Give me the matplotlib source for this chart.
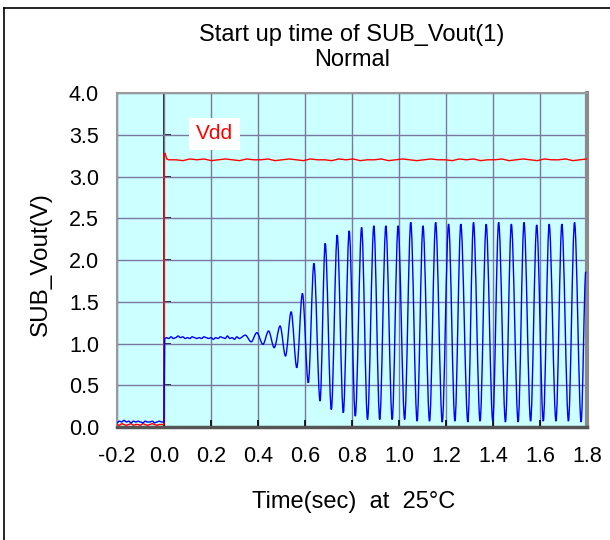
import numpy as np
import matplotlib
matplotlib.use("Agg")
import matplotlib.pyplot as plt
from matplotlib.path import Path
from matplotlib.patches import PathPatch
from matplotlib.lines import Line2D

plt.rcParams['font.family'] = ['Liberation Sans', 'DejaVu Sans']

# ---- data ----
# SUB_Vout before power-up (t = -0.2 .. 0.0, step 0.01)
vout_pre = [0.05, 0.07, 0.06, 0.08, 0.06, 0.07, 0.05, 0.07, 0.06, 0.07, 0.06,
            0.05, 0.07, 0.06, 0.06, 0.07, 0.05, 0.06, 0.07, 0.06, 0.06]
# SUB_Vout flat part after power-up (t = 0.01 .. 0.32, step 0.01)
vout_flat = [1.07, 1.06, 1.08, 1.06, 1.07, 1.09, 1.07, 1.08, 1.06, 1.07, 1.06,
             1.08, 1.07, 1.06, 1.07, 1.06, 1.08, 1.07, 1.06, 1.07, 1.05, 1.07,
             1.06, 1.08, 1.07, 1.06, 1.09, 1.06, 1.07, 1.05, 1.08, 1.06]
# oscillation peaks / troughs
osc_t = [0.346, 0.371, 0.395, 0.421, 0.445, 0.469, 0.494, 0.517, 0.541, 0.565,
         0.589, 0.614, 0.638, 0.664, 0.686, 0.712, 0.737, 0.763, 0.788, 0.814,
         0.841, 0.866, 0.893, 0.918, 0.944, 0.971, 0.996, 1.024, 1.050, 1.077,
         1.102, 1.130, 1.156, 1.184, 1.211, 1.238, 1.263, 1.293, 1.317, 1.345,
         1.371, 1.399, 1.424, 1.453, 1.478, 1.507, 1.532, 1.560, 1.586, 1.614,
         1.639, 1.668, 1.693, 1.721, 1.747, 1.775, 1.795]
osc_v = [1.10, 1.02, 1.13, 0.99, 1.15, 0.95, 1.21, 0.85, 1.38, 0.71,
         1.60, 0.53, 1.96, 0.31, 2.20, 0.21, 2.30, 0.17, 2.35, 0.13,
         2.39, 0.09, 2.41, 0.09, 2.41, 0.09, 2.41, 0.09, 2.45, 0.07,
         2.41, 0.07, 2.45, 0.06, 2.43, 0.07, 2.43, 0.06, 2.45, 0.07,
         2.43, 0.07, 2.45, 0.06, 2.43, 0.06, 2.45, 0.07, 2.42, 0.07,
         2.43, 0.07, 2.43, 0.07, 2.45, 0.06, 1.86]

# Vdd before power-up (t = -0.2 .. 0.0, step 0.01)
vdd_pre = [0.03, 0.02, 0.04, 0.03, 0.02, 0.03, 0.04, 0.02, 0.03, 0.03, 0.02,
           0.04, 0.03, 0.02, 0.03, 0.04, 0.03, 0.02, 0.03, 0.03, 0.03]
# Vdd overshoot at switch-on
vdd_on_t = [0.001, 0.004, 0.012]
vdd_on_v = [3.27, 3.28, 3.21]
# Vdd steady (t = 0.02 .. 1.80, step 0.03)
vdd_flat = [3.20, 3.20, 3.19, 3.21, 3.20, 3.21, 3.19, 3.20, 3.21, 3.20,
            3.19, 3.21, 3.20, 3.20, 3.21, 3.19, 3.20, 3.21, 3.20, 3.19,
            3.21, 3.20, 3.20, 3.19, 3.21, 3.20, 3.21, 3.19, 3.20, 3.20,
            3.21, 3.19, 3.20, 3.21, 3.20, 3.19, 3.20, 3.21, 3.20, 3.20,
            3.19, 3.21, 3.20, 3.21, 3.19, 3.20, 3.20, 3.21, 3.19, 3.20,
            3.21, 3.20, 3.19, 3.21, 3.20, 3.20, 3.21, 3.19, 3.20, 3.21]

xticks = [-0.2, 0.0, 0.2, 0.4, 0.6, 0.8, 1.0, 1.2, 1.4, 1.6, 1.8]
yticks = [0.0, 0.5, 1.0, 1.5, 2.0, 2.5, 3.0, 3.5, 4.0]

# assemble series
t_pre = np.linspace(-0.2, 0.0, len(vout_pre))
t_flat = np.linspace(0.01, 0.32, len(vout_flat))
vout_t = np.concatenate([t_pre, [0.003], t_flat, osc_t])
vout_v = np.concatenate([vout_pre, [1.06], vout_flat, osc_v])

vdd_t = np.concatenate([np.linspace(-0.2, 0.0, len(vdd_pre)), vdd_on_t,
                        np.linspace(0.02, 1.80, len(vdd_flat))])
vdd_v = np.concatenate([vdd_pre, vdd_on_v, vdd_flat])


def smooth_path(x, y):
    # smoothed line like a spreadsheet chart: flat tangents at each point
    verts = [(x[0], y[0])]
    codes = [Path.MOVETO]
    for i in range(len(x) - 1):
        dx = x[i + 1] - x[i]
        verts += [(x[i] + dx / 3, y[i]), (x[i + 1] - dx / 3, y[i + 1]), (x[i + 1], y[i + 1])]
        codes += [Path.CURVE4] * 3
    return Path(verts, codes)


W, H = 610, 540
fig = plt.figure(figsize=(W / 100, H / 100), dpi=100)
ax = fig.add_axes([117 / W, 1 - 427 / H, 470 / W, 334 / H])
ax.set_facecolor('#ccffff')

ax.set_xlim(-0.2, 1.8)
ax.set_ylim(0, 4)
ax.set_xticks(xticks)
ax.set_yticks(yticks)
ax.set_xticklabels([f'{v:.1f}' for v in xticks])
ax.set_yticklabels([f'{v:.1f}' for v in yticks])
ax.grid(True, color='#7878a0', linewidth=1)
ax.set_axisbelow(True)

ax.tick_params(axis='y', length=0, pad=13, labelsize=15.5)
ax.tick_params(axis='x', direction='in', length=5, width=1.2, color='black',
               pad=13.5, labelsize=15.5)

for side in ['left', 'top']:
    ax.spines[side].set_color('#9a9a9a')
    ax.spines[side].set_linewidth(1.5)
ax.spines['right'].set_color('#8a8a8a')
ax.spines['right'].set_linewidth(3)
ax.spines['bottom'].set_color('#555555')
ax.spines['bottom'].set_linewidth(2.5)

# y axis line at t = 0 with inward ticks
sec = ax.secondary_yaxis(0.1)
sec.set_yticks(yticks)
sec.set_yticklabels([])
sec.tick_params(direction='in', length=5, width=1.2, color='black')
sec.spines['left'].set_color('black')
sec.spines['left'].set_linewidth(1.2)

ax.plot(vdd_t, vdd_v, color='#ff0000', linewidth=1.0, zorder=3)
ax.add_patch(PathPatch(smooth_path(vout_t, vout_v), facecolor='none',
                       edgecolor='#0000ff', linewidth=1.0, zorder=3))

ax.text(0.214, 3.51, 'Vdd', color='#ff0000', fontsize=15, ha='center', va='center',
        bbox=dict(facecolor='white', edgecolor='none', pad=5), zorder=4)

fig.text(352 / W, 1 - 47.5 / H, 'Start up time of SUB_Vout(1)\nNormal',
         ha='center', va='center', fontsize=17, linespacing=1.2)
fig.text(354 / W, 1 - 502 / H, 'Time(sec)  at  25°C', ha='center', va='center', fontsize=17)
fig.text(41 / W, 1 - 264 / H, 'SUB_Vout(V)', ha='center', va='center', fontsize=17.5,
         rotation=90)

# outer chart frame (left and top edges)
fig.lines.append(Line2D([3.5 / W, 3.5 / W], [0, 1 - 7.5 / H], transform=fig.transFigure,
                        color='black', linewidth=1.2))
fig.lines.append(Line2D([3.5 / W, 1], [1 - 7.5 / H, 1 - 7.5 / H], transform=fig.transFigure,
                        color='black', linewidth=1.2))

fig.savefig('out.png', dpi=100, facecolor='white')
